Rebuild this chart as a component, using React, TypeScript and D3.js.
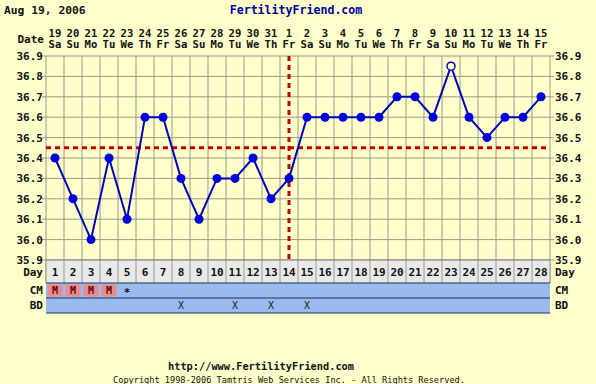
import React from "react";
import * as d3 from "d3";

const days = d3.range(1, 29);
const dates = [19, 20, 21, 22, 23, 24, 25, 26, 27, 28, 29, 30, 31, 1, 2, 3, 4, 5, 6, 7, 8, 9, 10, 11, 12, 13, 14, 15];
const weekdays = ["Sa", "Su", "Mo", "Tu", "We", "Th", "Fr"];
const temps = [36.4, 36.2, 36.0, 36.4, 36.1, 36.6, 36.6, 36.3, 36.1, 36.3, 36.3, 36.4, 36.2, 36.3, 36.6, 36.6, 36.6, 36.6, 36.6, 36.7, 36.7, 36.6, 36.85, 36.6, 36.5, 36.6, 36.6, 36.7];
const openDays = [23];
const cm = ["M", "M", "M", "M", "*", "", "", "", "", "", "", "", "", "", "", "", "", "", "", "", "", "", "", "", "", "", "", ""];
const bdDays = [8, 11, 13, 15];
const yTicks = [36.9, 36.8, 36.7, 36.6, 36.5, 36.4, 36.3, 36.2, 36.1, 36.0, 35.9];
const coverline = 36.45;
const ovulationDay = 14;

const W = 596, H = 384;
const L = 46, R = 550, T = 56, B = 260;
const BG = "#ffffcc";
const FONT = "'DejaVu Sans Mono', monospace";

export default function App() {
  const x = d3.scaleBand<number>().domain(days).range([L, R]);
  const y = d3.scaleLinear().domain([35.9, 36.9]).range([B, T]);
  const cx = (d: number) => (x(d) as number) + x.bandwidth() / 2;
  const line = d3.line<number>().x((_, i) => cx(days[i])).y((t) => y(t));
  const dayTop = B, cmTop = 283, bdTop = 298, bdBot = 313;
  const bw = x.bandwidth();

  return (
    <svg width={W} height={H} style={{ position: "absolute", left: 0, top: 0, background: BG }}>
      <rect x={0} y={0} width={W} height={H} fill={BG} />
      <text x={4} y={14} fontFamily={FONT} fontWeight="bold" fontSize={11.3} fill="#111">Aug 19, 2006</text>
      <text x={296} y={14} textAnchor="middle" fontFamily={FONT} fontWeight="bold" fontSize={11.6} fill="#000099">FertilityFriend.com</text>

      <text x={44} y={43} textAnchor="end" fontFamily={FONT} fontWeight="bold" fontSize={11} fill="#111">Date</text>
      {days.map((d, i) => (
        <g key={"dt" + d}>
          <text x={cx(d)} y={36.5} textAnchor="middle" fontFamily={FONT} fontWeight="bold" fontSize={10.6} fill="#111">{dates[i]}</text>
          <text x={cx(d)} y={48} textAnchor="middle" fontFamily={FONT} fontWeight="bold" fontSize={10.6} fill="#111">{weekdays[i % 7]}</text>
        </g>
      ))}

      <rect x={L} y={T} width={R - L} height={B - T} fill={BG} />
      {yTicks.map((t) => (
        <g key={"yt" + t}>
          <line x1={L - 4} x2={R + 4} y1={y(t)} y2={y(t)} stroke="#9a9a8a" strokeWidth={1} />
          <text x={43} y={y(t) + 4} textAnchor="end" fontFamily={FONT} fontWeight="bold" fontSize={11} fill="#111">{t.toFixed(1)}</text>
          <text x={555} y={y(t) + 4} fontFamily={FONT} fontWeight="bold" fontSize={11} fill="#111">{t.toFixed(1)}</text>
        </g>
      ))}
      {days.map((d) => (
        <line key={"vg" + d} x1={x(d) as number} x2={x(d) as number} y1={T} y2={dayTop + 23} stroke="#9a9a8a" strokeWidth={1} />
      ))}
      <line x1={R} x2={R} y1={T} y2={dayTop + 23} stroke="#9a9a8a" strokeWidth={1} />

      <line x1={L} x2={R} y1={y(coverline)} y2={y(coverline)} stroke="#c00000" strokeWidth={3} strokeDasharray="5,4" />
      <line x1={cx(ovulationDay)} x2={cx(ovulationDay)} y1={T} y2={B} stroke="#c00000" strokeWidth={3} strokeDasharray="5,4" />

      <path d={line(temps) as string} fill="none" stroke="#0000bb" strokeWidth={2} />
      {days.map((d, i) =>
        openDays.includes(d) ? (
          <circle key={"p" + d} cx={cx(d)} cy={y(temps[i])} r={4} fill={BG} stroke="#0000bb" strokeWidth={1.5} />
        ) : (
          <circle key={"p" + d} cx={cx(d)} cy={y(temps[i])} r={4.5} fill="#0000dd" />
        )
      )}

      {/* Day row */}
      <rect x={L} y={dayTop} width={R - L} height={cmTop - dayTop} fill="#e9e9e9" />
      {days.map((d) => (
        <line key={"dg" + d} x1={x(d) as number} x2={x(d) as number} y1={dayTop} y2={cmTop} stroke="#9a9a8a" strokeWidth={1} />
      ))}
      <line x1={R} x2={R} y1={dayTop} y2={cmTop} stroke="#9a9a8a" strokeWidth={1} />
      <line x1={L} x2={R} y1={dayTop} y2={dayTop} stroke="#777" strokeWidth={1} />
      {days.map((d) => (
        <text key={"dn" + d} x={cx(d)} y={276} textAnchor="middle" fontFamily={FONT} fontWeight="bold" fontSize={11} fill="#111">{d}</text>
      ))}
      <text x={43} y={276} textAnchor="end" fontFamily={FONT} fontWeight="bold" fontSize={11} fill="#111">Day</text>
      <text x={555} y={276} fontFamily={FONT} fontWeight="bold" fontSize={11} fill="#111">Day</text>

      {/* CM and BD rows */}
      <rect x={L} y={cmTop} width={R - L} height={bdBot - cmTop} fill="#99bbee" />
      {days.map((d, i) =>
        cm[i] === "M" ? (
          <rect key={"cmr" + d} x={(x(d) as number) + 1.5} y={cmTop + 1.5} width={bw - 3} height={bdTop - cmTop - 3} fill="#e88c8c" />
        ) : null
      )}
      {days.map((d, i) =>
        cm[i] ? (
          <text key={"cmt" + d} x={cx(d)} y={cm[i] === "*" ? 296 : 294} textAnchor="middle" fontFamily={FONT} fontWeight="bold" fontSize={cm[i] === "*" ? 11 : 10} fill={cm[i] === "M" ? "#660000" : "#111"}>{cm[i]}</text>
        ) : null
      )}
      {bdDays.map((d) => (
        <text key={"bd" + d} x={cx(d)} y={309} textAnchor="middle" fontFamily={FONT} fontSize={10} fill="#222">X</text>
      ))}
      <line x1={L} x2={R} y1={cmTop} y2={cmTop} stroke="#223355" strokeWidth={1.2} />
      <line x1={L} x2={R} y1={bdTop} y2={bdTop} stroke="#223355" strokeWidth={1.2} />
      <line x1={L} x2={R} y1={bdBot} y2={bdBot} stroke="#223355" strokeWidth={1.2} />
      <text x={43} y={294} textAnchor="end" fontFamily={FONT} fontWeight="bold" fontSize={11} fill="#111">CM</text>
      <text x={555} y={294} fontFamily={FONT} fontWeight="bold" fontSize={11} fill="#111">CM</text>
      <text x={43} y={309} textAnchor="end" fontFamily={FONT} fontWeight="bold" fontSize={11} fill="#111">BD</text>
      <text x={555} y={309} fontFamily={FONT} fontWeight="bold" fontSize={11} fill="#111">BD</text>

      <text x={261} y={370} textAnchor="middle" fontFamily={FONT} fontWeight="bold" fontSize={10.3} fill="#111">http://www.FertilityFriend.com</text>
      <text x={289} y={383} textAnchor="middle" fontFamily={FONT} fontSize={8.6} fill="#111">Copyright 1998-2006 Tamtris Web Services Inc. - All Rights Reserved.</text>
    </svg>
  );
}
